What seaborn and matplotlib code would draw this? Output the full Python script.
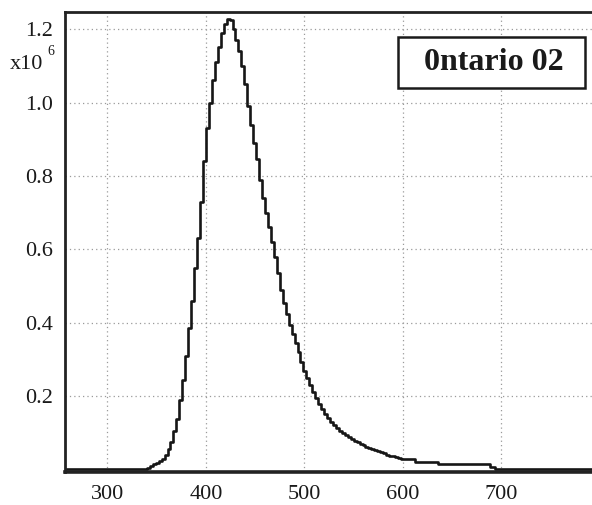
import matplotlib

matplotlib.use("Agg")
import matplotlib.pyplot as plt
import pandas as pd
import seaborn as sns
from matplotlib.patches import Rectangle

# Left bin edges (nm): flat baseline, 3 nm bins over the peak, wider tail bins
BIN_START = [257] + list(range(340, 601, 3)) + [601, 612, 636, 688, 694]
# Counts (x10^6), one per bin
COUNTS = [0.004,
          0.006, 0.010, 0.015, 0.020, 0.025, 0.031, 0.042, 0.056, 0.075, 0.105,
          0.14, 0.19, 0.245, 0.31, 0.385, 0.46, 0.55, 0.63, 0.73, 0.84,
          0.93, 1.00, 1.06, 1.11, 1.15, 1.19, 1.215, 1.228, 1.225, 1.20,
          1.17, 1.14, 1.10, 1.05, 0.99, 0.94, 0.89, 0.845, 0.79, 0.74,
          0.70, 0.66, 0.62, 0.58, 0.535, 0.49, 0.455, 0.425, 0.395, 0.37,
          0.345, 0.32, 0.295, 0.27, 0.25, 0.23, 0.212, 0.195, 0.18, 0.165,
          0.153, 0.142, 0.131, 0.122, 0.114, 0.107, 0.100, 0.094, 0.089, 0.084,
          0.080, 0.075, 0.071, 0.067, 0.063, 0.060, 0.057, 0.054, 0.051, 0.048,
          0.045, 0.042, 0.039, 0.037, 0.035, 0.033, 0.031,
          0.030, 0.022, 0.015, 0.008, 0.004]
LAST_EDGE = 800

X_TICKS = [300, 400, 500, 600, 700]
Y_TICKS = [0.2, 0.4, 0.6, 0.8, 1.0, 1.2]
LABEL = "0ntario 02"

SERIF = ["Liberation Serif", "DejaVu Serif"]

df = pd.DataFrame({"wl": BIN_START + [LAST_EDGE],
                   "n": COUNTS + [COUNTS[-1]]})

sns.set_theme(style="white")
plt.rcParams["font.family"] = SERIF

fig = plt.figure(figsize=(5.92, 5.05), dpi=100)
ax = fig.add_axes([0.110, 0.065, 0.895, 0.911])

sns.lineplot(data=df, x="wl", y="n", drawstyle="steps-post", color="#161616",
             linewidth=1.9, sort=False, ax=ax)

ax.set_xlim(257, 795)
ax.set_ylim(-0.006, 1.246)
ax.set_xticks(X_TICKS)
ax.set_yticks(Y_TICKS)
ax.set_yticklabels([f"{v:.1f}" for v in Y_TICKS])
ax.set_xlabel("")
ax.set_ylabel("")

ax.grid(True, color="#9a9a9a", linestyle=(0, (1, 2.5)), linewidth=0.9)
ax.tick_params(axis="both", direction="in", length=14, width=2,
               color="#1a1a1a", labelsize=16, labelcolor="#1a1a1a")
ax.tick_params(axis="x", pad=9)
ax.tick_params(axis="y", pad=9)

for side in ["left", "top", "bottom"]:
    ax.spines[side].set_color("#222222")
ax.spines["left"].set_linewidth(2.0)
ax.spines["top"].set_linewidth(2.0)
ax.spines["bottom"].set_linewidth(2.6)
ax.spines["right"].set_visible(False)

# exponent label on the y axis
fig.text(0.017, 0.873, "x10", fontsize=16, color="#1a1a1a", va="center")
fig.text(0.080, 0.899, "6", fontsize=10, color="#1a1a1a", va="center")

# sample name in a framed box (top right)
ax.add_patch(Rectangle((0.628, 0.835), 0.353, 0.111, transform=ax.transAxes,
                       facecolor="white", edgecolor="#1a1a1a", linewidth=1.8,
                       zorder=4))
ax.text(0.810, 0.890, LABEL, transform=ax.transAxes, ha="center", va="center",
        fontsize=23, fontweight="bold", color="#1a1a1a", zorder=5)

fig.savefig("out.png", dpi=100)
plt.close(fig)
